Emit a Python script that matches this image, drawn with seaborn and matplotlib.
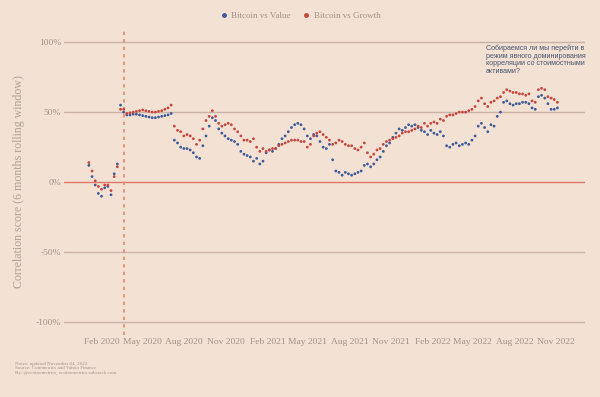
import numpy as np
import pandas as pd
import matplotlib
matplotlib.use("Agg")
import matplotlib.pyplot as plt
import matplotlib.dates as mdates
import seaborn as sns

# weekly readings, Jan 3 2020 -> Nov 4 2022
dates = pd.date_range("2020-01-03", "2022-11-04", freq="7D")

value_corr = [12, 4, -2, -8, -10, -4, -3, -9, 6, 13,
              55, 50, 48, 48, 48.5, 48.5, 48, 47.5, 47, 46.5,
              46, 46, 46.5, 47, 47.5, 48, 49, 30, 28, 25,
              24, 24, 23, 21, 18, 17, 26, 33, 40, 46,
              44, 38, 35, 33, 31, 30, 29, 27, 22, 20,
              19, 18, 15, 17, 13, 15, 21, 23, 22, 24,
              27, 31, 33, 36, 39, 41, 42, 41, 38, 33,
              31, 34, 33, 29, 25, 24, 27, 16, 8, 7,
              5, 7, 6, 5, 6, 7, 8, 12, 13, 11,
              13, 16, 18, 22, 26, 28, 32, 35, 38, 37,
              39, 41, 40, 41, 39, 37, 36, 34, 37, 35,
              34, 36, 33, 26, 25, 27, 28, 26, 27, 28,
              27, 30, 33, 40, 42, 39, 36, 41, 40, 47,
              50, 57, 58, 56, 55, 56, 56, 57, 57, 56,
              53, 52, 61, 62, 60, 56, 52, 52, 53]

growth_corr = [14, 8, 1, -3, -5, -2, -2, -6, 4, 11,
               52, 52, 49, 49.5, 50, 50.5, 51, 51.5, 51, 50.5,
               50, 50, 50.5, 51, 52, 53, 55, 40, 37, 36,
               33, 34, 33, 31, 27, 30, 38, 44, 47, 51,
               47, 42, 40, 41, 42, 41, 38, 36, 33, 30,
               30, 29, 31, 25, 22, 24, 22, 23, 24, 24,
               26, 27, 28, 29, 30, 30, 30, 29, 29, 25,
               27, 33, 35, 36, 34, 32, 30, 27, 28, 30,
               29, 27, 26, 26, 24, 23, 25, 28, 21, 18,
               20, 23, 24, 27, 29, 30, 31, 32, 33, 35,
               36, 36, 37, 38, 40, 39, 42, 40, 42, 43,
               42, 45, 44, 47, 48, 48, 49, 50, 50, 50,
               51, 52, 54, 58, 60, 56, 54, 57, 58, 60,
               61, 64, 66, 65, 64, 64, 63, 63, 62, 63,
               58, 57, 66, 67, 66, 61, 60, 59, 57]

series_names = ["Bitcoin vs Value", "Bitcoin vs Growth"]
series_colors = ["#3d5a9a", "#c8453d"]
marker_date = pd.Timestamp("2020-03-20")

df = pd.DataFrame({
    "date": np.concatenate([dates, dates]),
    "corr": np.array(value_corr + growth_corr) / 100.0,
    "series": [series_names[0]] * len(dates) + [series_names[1]] * len(dates),
})

bg = "#f3e1d3"
grey = "#a3918a"

sns.set_theme(style="white")
plt.rcParams["font.family"] = ["Liberation Serif", "DejaVu Serif"]

fig = plt.figure(figsize=(6, 3.97), dpi=100, facecolor=bg)
ax = fig.add_axes([64 / 600, 1 - 335 / 397, (585 - 64) / 600, (335 - 28) / 397])
ax.set_facecolor(bg)

for yv in [1.0, 0.5, -0.5, -1.0]:
    ax.axhline(yv, color="#c9b3a8", lw=1.0, zorder=1)
ax.axhline(0, color="#e0766a", lw=1.0, zorder=1)
ax.axvline(marker_date, color="#e2866e", lw=1.2, ls=(0, (2, 2.5)), zorder=1)

sns.scatterplot(data=df, x="date", y="corr", hue="series",
                palette=dict(zip(series_names, series_colors)),
                s=4, linewidth=0, ax=ax, legend=False, zorder=3)

ax.set_xlim(pd.Timestamp("2019-11-09"), pd.Timestamp("2023-01-04"))
ax.set_ylim(-1.09, 1.10)
ax.set_yticks([-1.0, -0.5, 0, 0.5, 1.0])
ax.set_yticklabels(["-100%", "-50%", "0%", "50%", "100%"])
ax.xaxis.set_major_locator(mdates.MonthLocator(bymonth=[2, 5, 8, 11]))
ax.xaxis.set_major_formatter(mdates.DateFormatter("%b %Y"))
ax.tick_params(axis="both", length=0, labelsize=6.8, colors=grey, pad=2)
ax.set_xlabel("")
ax.set_ylabel("Correlation score (6 months rolling window)", fontsize=8.6, color="#b0a098")
ax.yaxis.set_label_coords(-0.075, 0.5)
for sp in ax.spines.values():
    sp.set_visible(False)

# legend on top
handles = [plt.Line2D([], [], marker="o", ls="", ms=2.5, color=c) for c in series_colors]
fig.legend(handles, series_names, loc="center", bbox_to_anchor=(0.5, 1 - 16 / 397),
           ncol=2, frameon=False, fontsize=6.5, labelcolor=grey,
           handletextpad=0.3, columnspacing=1.2, handlelength=1.0)

ax.text(486 / 600, 1 - 45 / 397,
        "Собираемся ли мы перейти в\nрежим явного доминирования\nкорреляции со стоимостными\nактивами?",
        transform=fig.transFigure, ha="left", va="top", fontsize=5.1,
        color="#4a5570", family=["Liberation Sans", "DejaVu Sans"], linespacing=1.1)

fig.text(15 / 600, 1 - 368 / 397,
         "Notes: updated November 04, 2022\nSource: Coinmetrics and Yahoo Finance\nBy: @ecoinometrics, ecoinometrics.substack.com",
         ha="left", va="center", fontsize=3.6, color="#a3918a", linespacing=1.15)

fig.savefig("out.png", dpi=100, facecolor=bg)
